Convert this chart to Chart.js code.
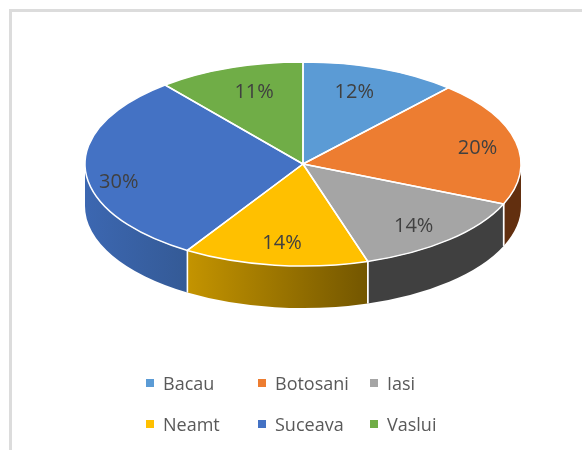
<!DOCTYPE html>
<html>
<head>
<meta charset="utf-8">
<script src="https://cdn.jsdelivr.net/npm/chart.js@4"></script>
<style>
    html, body { margin: 0; padding: 0; background: #fff; }
    #frame { position: absolute; left: 9px; top: 9px; width: 573px; height: 441px; border-left: 3px solid #dcdcdc; border-top: 3px solid #dcdcdc; box-sizing: border-box; }
    #chart { position: absolute; left: 0; top: 0; }
    #legend { position: absolute; left: 146px; top: 362px; display: grid; grid-template-columns: 112px 112px 112px; grid-auto-rows: 41.5px; font: 18px "Open Sans", sans-serif; color: #595959; }
    #legend div { display: flex; align-items: center; white-space: nowrap; }
    #legend i { width: 8px; height: 8px; margin-right: 9px; }
</style>
</head>
<body>
<div id="frame"></div>
<canvas id="chart" width="582" height="450"></canvas>
<div id="legend"></div>
<script>
const categories = ['Bacau', 'Botosani', 'Iasi', 'Neamt', 'Suceava', 'Vaslui'];
const shares = [11.6, 19.8, 13.8, 13.7, 30.2, 10.9];
const topColors = ['#5b9bd5', '#ed7d31', '#a5a5a5', '#ffc000', '#4472c4', '#70ad47'];
const wallFrom = ['#5b9bd5', '#622f0f', '#404040', '#c49400', '#3c67b1', '#70ad47'];
const wallTo = ['#5b9bd5', '#622f0f', '#404040', '#735600', '#345a96', '#70ad47'];
const labelShiftX = [-7, 15, 1, 0, -21, 6];
const labelShiftY = [0, 1, 6, 3, 13, 0];

const tilt = 102 / 218;
const topCenterY = 164;
const wallDepth = 42;

// squash the round pie into the 3d disc and put the side walls under it
const disc3d = {
    id: 'disc3d',
    beforeDatasetsDraw(chart) {
        const ctx = chart.ctx;
        const arcs = chart.getDatasetMeta(0).data;
        ctx.save();
        arcs.forEach((arc, i) => {
            const from = Math.max(arc.startAngle, 0);
            const to = Math.min(arc.endAngle, Math.PI);
            if (to <= from)
                return;
            const rx = arc.outerRadius, ry = rx * tilt;
            const x0 = arc.x + rx * Math.cos(to), x1 = arc.x + rx * Math.cos(from);
            const grad = ctx.createLinearGradient(x0, 0, x1, 0);
            grad.addColorStop(0, wallFrom[i]);
            grad.addColorStop(1, wallTo[i]);
            ctx.beginPath();
            ctx.ellipse(arc.x, topCenterY, rx, ry, 0, from, to);
            ctx.ellipse(arc.x, topCenterY + wallDepth, rx, ry, 0, to, from, true);
            ctx.closePath();
            ctx.fillStyle = grad;
            ctx.fill();
            // seams between walls
            ctx.strokeStyle = '#fff';
            ctx.lineWidth = 1.5;
            [from, to].forEach(a => {
                if (a === 0 || a === Math.PI)
                    return;
                const sx = arc.x + rx * Math.cos(a), sy = topCenterY + ry * Math.sin(a);
                ctx.beginPath();
                ctx.moveTo(sx, sy);
                ctx.lineTo(sx, sy + wallDepth);
                ctx.stroke();
            });
        });
        ctx.restore();

        ctx.save();
        const cy = arcs[0].y;
        ctx.translate(0, topCenterY);
        ctx.scale(1, tilt);
        ctx.translate(0, -cy);
    },
    afterDatasetsDraw(chart) {
        const ctx = chart.ctx;
        ctx.restore();

        const arcs = chart.getDatasetMeta(0).data;
        ctx.save();
        ctx.strokeStyle = '#fff';
        ctx.lineWidth = 1.5;
        arcs.forEach(arc => {
            const rx = arc.outerRadius, ry = rx * tilt;
            ctx.beginPath();
            ctx.moveTo(arc.x, topCenterY);
            ctx.ellipse(arc.x, topCenterY, rx, ry, 0, arc.startAngle, arc.endAngle);
            ctx.closePath();
            ctx.stroke();
        });

        ctx.fillStyle = '#404040';
        ctx.font = '20px "Open Sans", sans-serif';
        ctx.textAlign = 'center';
        ctx.textBaseline = 'middle';
        arcs.forEach((arc, i) => {
            const mid = (arc.startAngle + arc.endAngle) / 2;
            const rx = arc.outerRadius * 0.75, ry = rx * tilt;
            const x = arc.x + rx * Math.cos(mid) + labelShiftX[i];
            const y = topCenterY + ry * Math.sin(mid) + labelShiftY[i];
            ctx.fillText(Math.round(shares[i]) + '%', x, y);
        });
        ctx.restore();
    }
};

new Chart(document.getElementById('chart'), {
    type: 'pie',
    data: {
        labels: categories,
        datasets: [{
            data: shares,
            backgroundColor: topColors,
            borderWidth: 0,
            clip: false
        }]
    },
    options: {
        responsive: false,
        animation: false,
        layout: { padding: { left: 24, right: 0, top: 7, bottom: 7 } },
        plugins: {
            legend: { display: false },
            tooltip: { enabled: false }
        }
    },
    plugins: [disc3d]
});

const legend = document.getElementById('legend');
categories.forEach((name, i) => {
    const item = document.createElement('div');
    const box = document.createElement('i');
    box.style.background = topColors[i];
    item.appendChild(box);
    item.appendChild(document.createTextNode(name));
    legend.appendChild(item);
});
</script>
</body>
</html>
